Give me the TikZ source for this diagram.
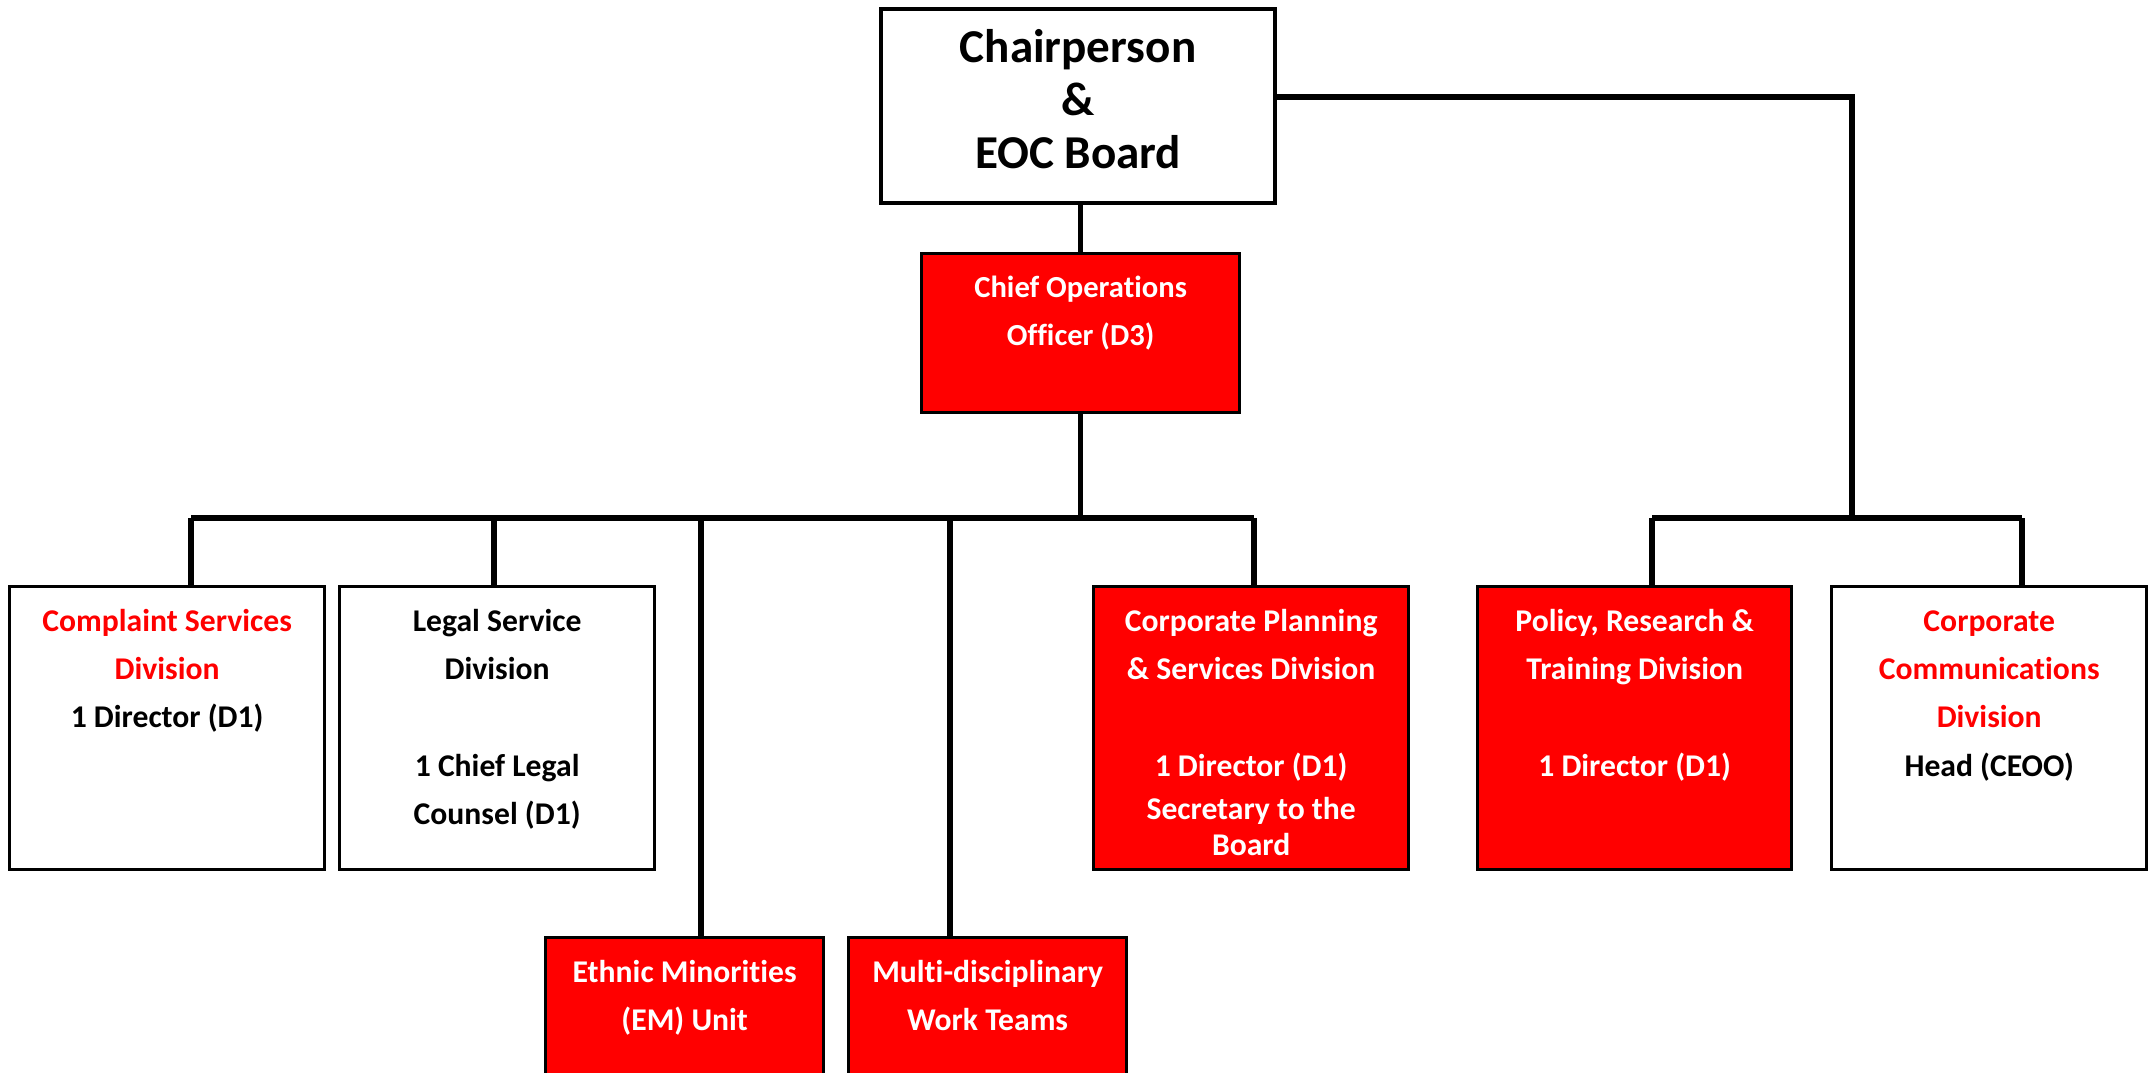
\documentclass[tikz,border=0pt]{standalone}
\usepackage{fontspec}
\setmainfont{Carlito}[Ligatures=NoCommon]
\usetikzlibrary{positioning,calc}
\definecolor{BoxRed}{HTML}{FF0000}
% width, height, first baseline, text
\newcommand{\boxtext}[4]{\parbox[t][#2][t]{#1}{\centering\rule{0pt}{#3}#4}}

\begin{document}
\begin{tikzpicture}[x=0.01cm,y=-0.01cm,
    unit/.style={draw,line width=0.9pt,fill=white,inner sep=0pt,anchor=north west,
      font=\bfseries\fontsize{9}{13.7}\selectfont},
    redunit/.style={unit,fill=BoxRed,text=white},
    link/.style={line width=1.5pt}]
  \useasboundingbox (0,0) rectangle (2152,1073);

  % top of the chart
  \node[unit,line width=1.1pt,font=\bfseries\fontsize{13.4}{15.2}\selectfont] (chair) at (879,7)
    {\boxtext{3.94cm}{1.94cm}{15.1pt}{Chairperson\\ \&\\ EOC Board}};
  \node[redunit,font=\bfseries\fontsize{8.7}{13.7}\selectfont] (coo) at (920,252)
    {\boxtext{3.18cm}{1.59cm}{12.5pt}{Chief Operations\\ Officer (D3)}};

  % divisions
  \node[unit] (cs) at (8,585)
    {\boxtext{3.15cm}{2.83cm}{12.8pt}{\textcolor{BoxRed}{Complaint Services\\ Division}\\ 1 Director (D1)}};
  \node[unit] (legal) at (338,585)
    {\boxtext{3.15cm}{2.83cm}{12.8pt}{Legal Service\\ Division\\[\baselineskip] 1 Chief Legal\\ Counsel (D1)}};
  \node[redunit] (cp) at (1092,585)
    {\boxtext{3.15cm}{2.83cm}{12.8pt}{Corporate Planning\\ \& Services Division\\[\baselineskip] 1 Director (D1)\\[-1.5pt] Secretary to the\\[-3.2pt] Board}};
  \node[redunit] (prt) at (1476,585)
    {\boxtext{3.14cm}{2.83cm}{12.8pt}{Policy, Research \&\\ Training Division\\[\baselineskip] 1 Director (D1)}};
  \node[unit] (cc) at (1830,585)
    {\boxtext{3.15cm}{2.83cm}{12.8pt}{\textcolor{BoxRed}{Corporate\\ Communications\\ Division}\\ Head (CEOO)}};

  % units
  \node[redunit] (em) at (544,936)
    {\boxtext{2.78cm}{1.5cm}{12.8pt}{Ethnic Minorities\\ (EM) Unit}};
  \node[redunit] (multi) at (847,936)
    {\boxtext{2.78cm}{1.5cm}{12.8pt}{Multi-disciplinary\\ Work Teams}};

  % connectors
  \foreach \x/\n in {191/cs,494/legal,701/em,950/multi,1254/cp,1652/prt,2022/cc} {
    \coordinate (d-\n) at (\x,518);
    \draw[link] (d-\n) -- (d-\n |- \n.north);
  }
  \coordinate (r-top) at (1852,518);
  \draw[link] (coo.north |- chair.south) -- (coo.north);
  \draw[link] (coo.south) -- (coo.south |- d-cp);
  \draw[link] (d-cs) -- (d-cp);
  \draw[link] ([yshift=0.09cm]chair.east) -| (r-top);
  \draw[link] (d-prt) -- (d-cc);
\end{tikzpicture}
\end{document}
